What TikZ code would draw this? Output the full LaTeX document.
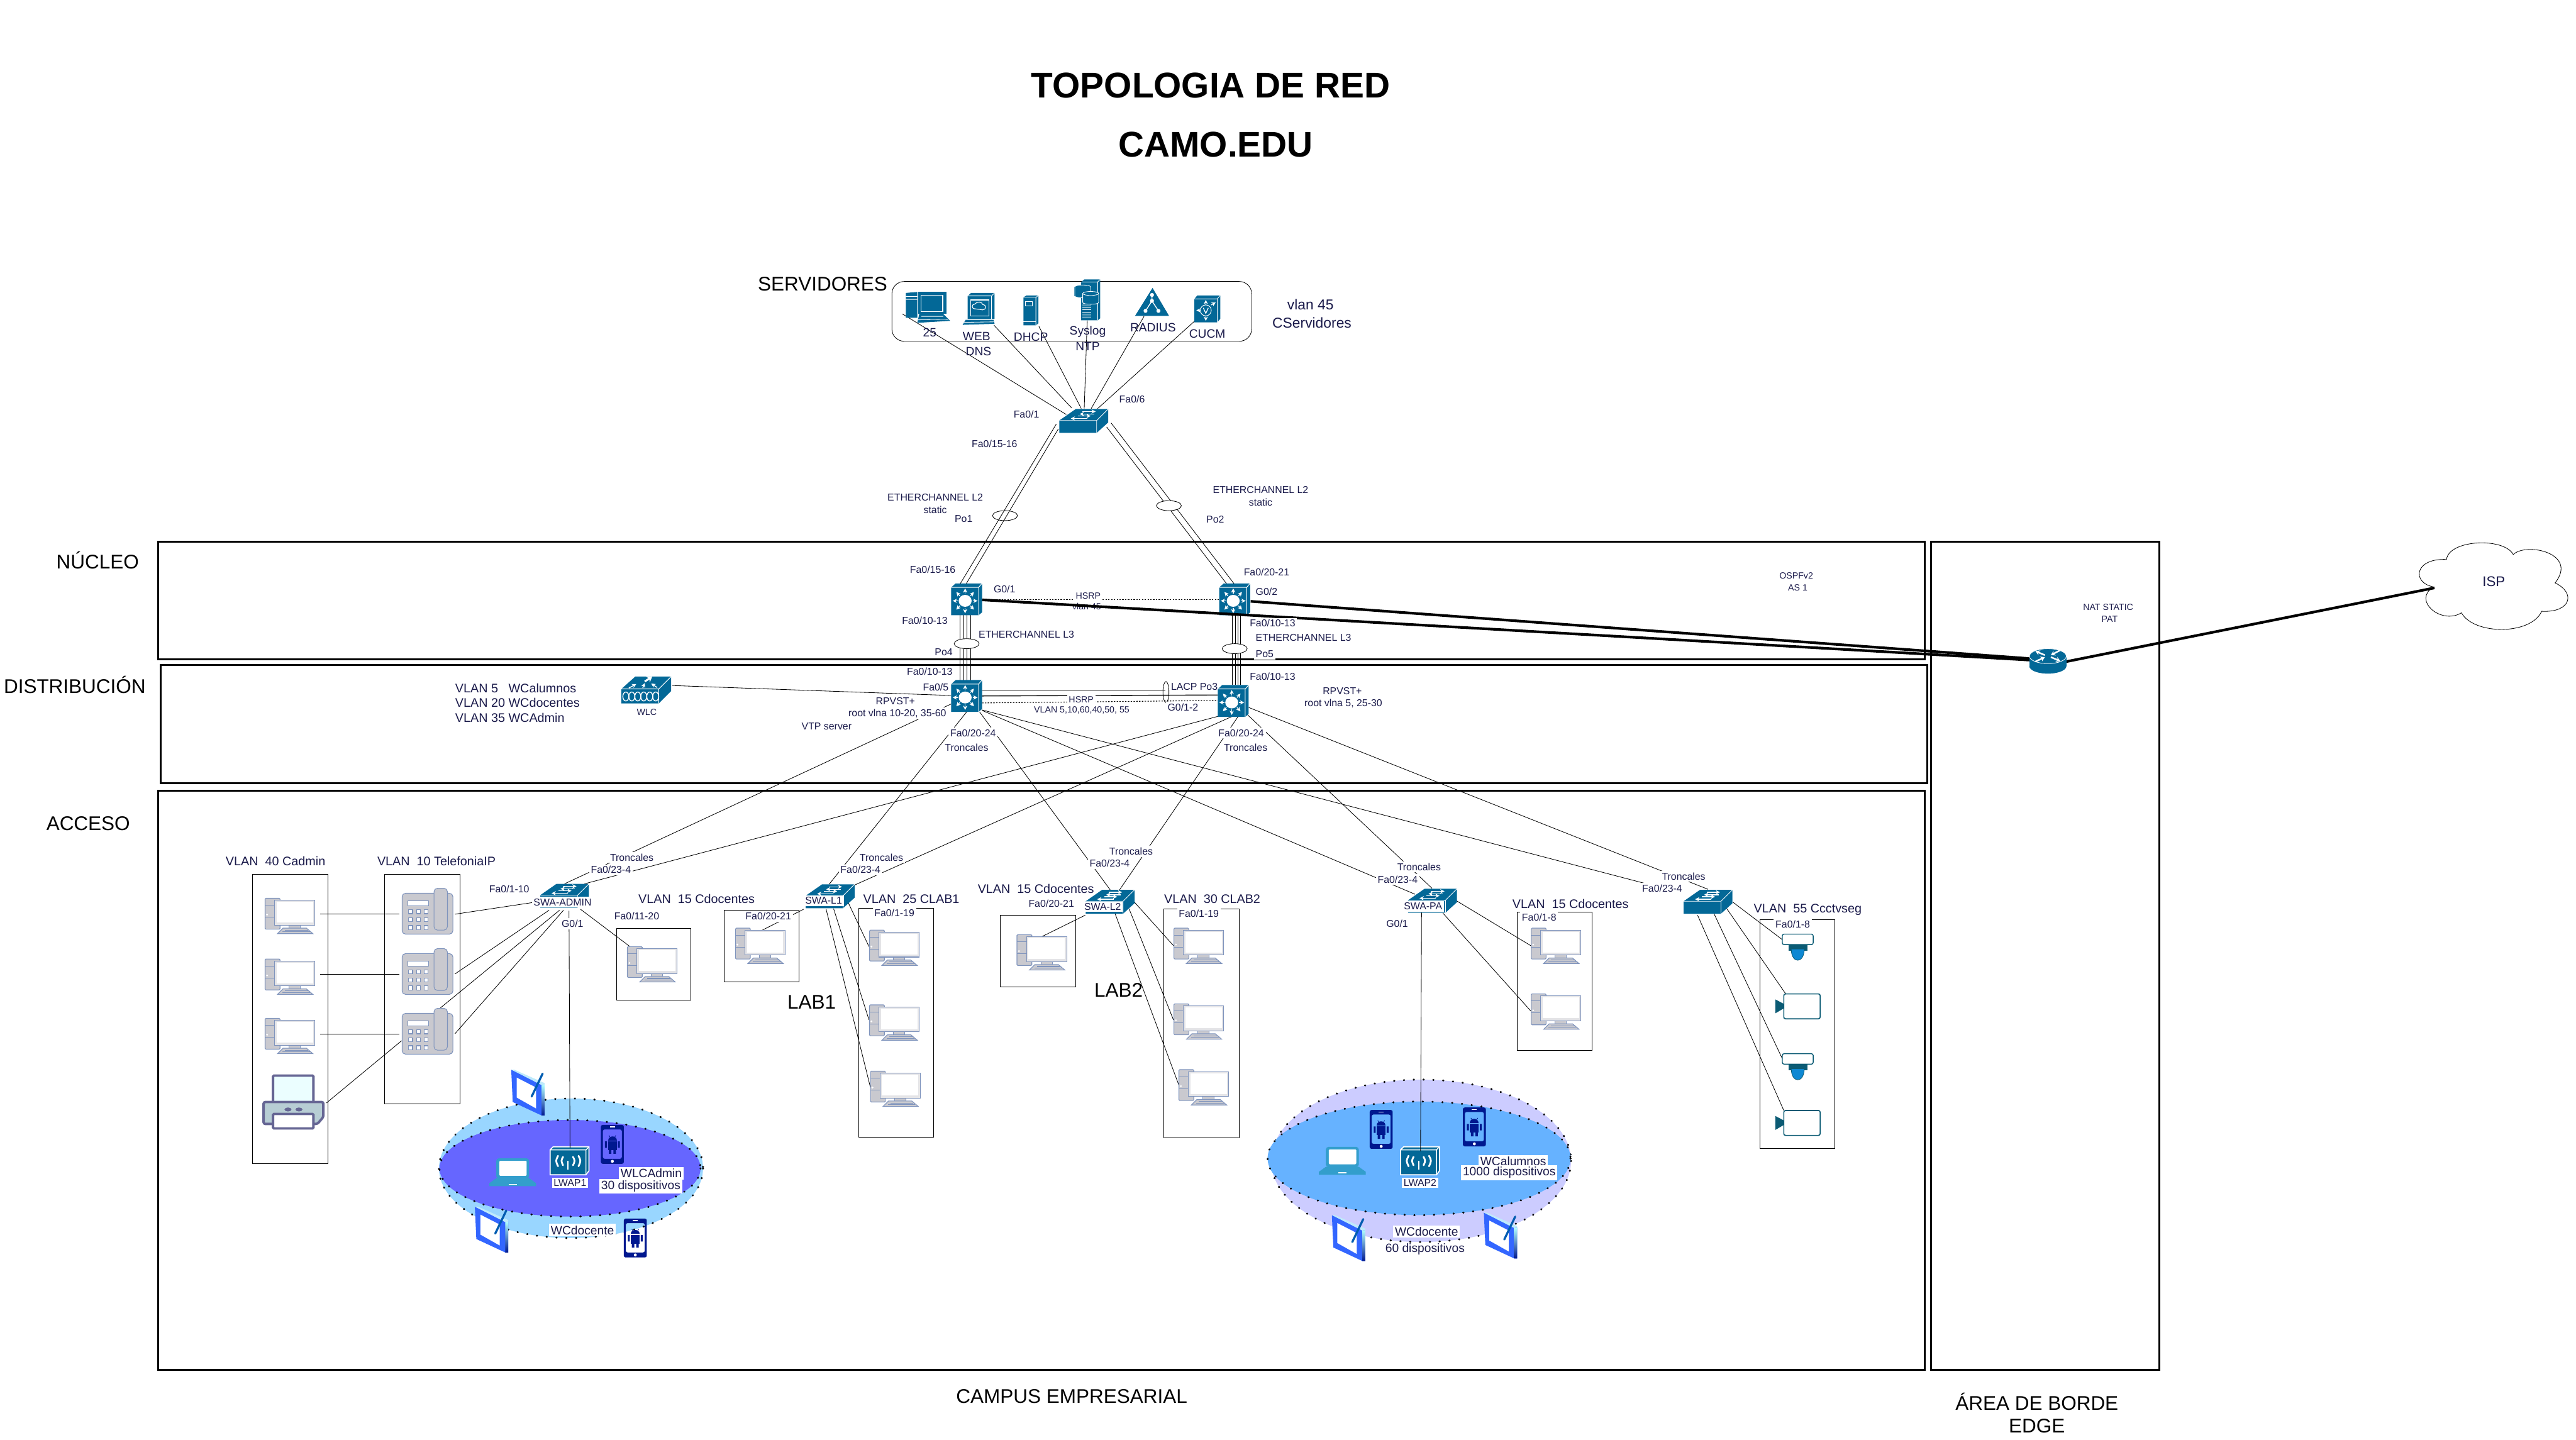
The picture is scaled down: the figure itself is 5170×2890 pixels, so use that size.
\documentclass[tikz,border=0pt]{standalone}
\usepackage{fontspec}
\setmainfont{Liberation Sans}
\usetikzlibrary{arrows.meta}
\definecolor{cis}{HTML}{036897}
\definecolor{cisd}{HTML}{025A82}
\definecolor{pcg}{HTML}{C9C9CF}
\definecolor{pce}{HTML}{7F94BD}
\definecolor{lbl}{HTML}{1A1A4A}
\definecolor{mb}{HTML}{00188F}
\definecolor{teal}{HTML}{0B5B74}
\newcount\tn
\newcommand\tx[4][]{\global\advance\tn by 1 \node[txt,#1] (t\the\tn) at (#2,#3) {#4};}
\newcommand\dev[3]{\node[devpt] (#1) at (#2,#3) {};}
\newcommand\lnk[5][link]{\draw[#1] ([shift={(#3)}]#2.center) -- ([shift={(#5)}]#4.center);}
\newcommand\ic[2]{\pic at (#2) {#1};}
\tikzset{
 x=0.01cm,y=-0.01cm,
 devpt/.style={inner sep=0pt,minimum size=0pt,outer sep=0pt},
 txt/.style={inner sep=0pt,text=lbl,font=\fontsize{5.7}{7}\selectfont},
 wb/.style={fill=white,inner sep=1pt},
 s18/.style={font=\fontsize{5.1}{6}\selectfont},
 s24/.style={font=\fontsize{6.9}{8}\selectfont},
 s25/.style={font=\fontsize{7.1}{8.5}\selectfont},
 s28/.style={font=\fontsize{8.2}{10}\selectfont},
 big/.style={text=black,font=\fontsize{11.3}{13}\selectfont},
 ttl/.style={text=black,font=\fontsize{20.4}{24}\selectfont\bfseries},
 link/.style={line width=.3pt,black},
 thick link/.style={line width=1.5pt,black},
 dot link/.style={line width=.4pt,black,dash pattern=on .8pt off .8pt},
 frame/.style={draw=black,line width=1.1pt},
 vbox/.style={draw=black,line width=.3pt},
 ring/.style={draw=black,line width=.3pt},
 wave/.style={draw=black,line width=1.1pt,line cap=round,dash pattern=on 0.2pt off 5.4pt},
 wa/.style={white,line width=.5pt,-{Stealth[length=2.4pt,width=2.4pt]}},
 pce line/.style={draw=pce,line width=.4pt},
 pcicon/.pic={
  \filldraw[fill=pcg,pce line,rounded corners=.5pt] (-50,-35) rectangle (-20,27);
  \draw[pce line] (-50,-21)--(-20,-21) (-50,3)--(-20,3);
  \fill[white] (-46,-2) circle (2);
  \filldraw[fill=pcg,pce line] (-2,19) rectangle (21,26);
  \filldraw[fill=pcg,pce line] (-14,25)--(33,25)--(46,36)--(-25,36)--cycle;
  \draw[pce line] (-10,29)--(36,29) (-15,32)--(40,32);
  \filldraw[fill=pcg!50,pce line] (-31,-31) rectangle (50,19);
  \fill[white] (-27,-28) rectangle (46,14);
 },
 phoneicon/.pic={
  \filldraw[fill=pcg,pce line,rounded corners=2pt] (-51,-36) rectangle (51,46);
  \filldraw[fill=pcg,pce line,rounded corners=2pt] (13,-46) rectangle (40,38);
  \filldraw[fill=white,pce line] (-39,-21) rectangle (2,-11);
  \foreach \xx in {-34,-18,-3} \foreach \yy in {1,17,33}
   \filldraw[fill=white,pce line] (\xx-4,\yy-4) rectangle (\xx+4,\yy+4);
 },
 printericon/.pic={
  \filldraw[fill=blue!5!cyan!8,draw=black!70!blue!60,line width=1.4pt,rounded corners=.5pt] (-41,-53) rectangle (40,4);
  \filldraw[fill=blue!25!cyan!25!gray!45,draw=black!70!blue!60,line width=1.4pt,rounded corners=1pt] (-60,0) -- (60,0) -- (60,30) -- (48,44) -- (-60,44) -- cycle;
  \fill[black!70!blue!60] (-11,15) ellipse [x radius=7,y radius=4] (11,15) ellipse [x radius=7,y radius=4];
  \filldraw[fill=white,draw=black!70!blue!60,line width=1.4pt,rounded corners=.5pt] (-41,24) rectangle (40,53);
 },
 swicon/.pic={
  \fill[cis] (-49,-1)--(-16,-24)--(49,-24)--(49,3)--(26,24)--(-49,24)--cycle;
  \draw[white,line width=.3pt] (-49,-1)--(26,-1)--(49,-24) (26,-1)--(26,24);
  \draw[wa] (-3,-19)--(24,-19);
  \draw[wa] (21,-14)--(-8,-14);
  \draw[wa] (-12,-10)--(14,-10);
  \draw[wa] (7,-5)--(-26,-5);
 },
 ltresicon/.pic={
  \fill[cis] (-31,-24)--(-22,-32)--(31,-32)--(31,26)--(24,32)--(-31,32)--cycle;
  \draw[white,line width=.35pt] (-31,-24)--(24,-24)--(31,-32) (24,-24)--(24,32);
  \fill[white] (-3,3) ellipse [x radius=13,y radius=12];
  \foreach \a in {0,45,...,315}
   \draw[wa] ({-3+15*cos(\a)},{3+14*sin(\a)}) -- ({-3+25*cos(\a)},{3+25*sin(\a)});
 },
 routericon/.pic={
  \fill[cis] (-37,-10) rectangle (37,10);
  \fill[cis] (0,10) ellipse [x radius=37,y radius=15];
  \filldraw[fill=cis,draw=white,line width=.3pt] (0,-10) ellipse [x radius=37,y radius=15];
  \draw[white,line width=.9pt,-{Stealth[length=2.5pt,width=3pt]}] (-6,-12)--(-25,-20);
  \draw[white,line width=.9pt,-{Stealth[length=2.5pt,width=3pt]}] (6,-8)--(25,0);
  \draw[white,line width=.9pt,{Stealth[length=2.5pt,width=3pt]}-] (6,-12)--(25,-22);
  \draw[white,line width=.9pt,{Stealth[length=2.5pt,width=3pt]}-] (-6,-8)--(-25,1);
 },
 wlcicon/.pic={
  \fill[cis] (-50,-2)--(-22,-27)--(50,-27)--(50,2)--(25,27)--(-50,27)--cycle;
  \draw[white,line width=.35pt] (-50,-2)--(25,-2)--(50,-27) (25,-2)--(25,27);
  \foreach \xx in {-41,-29,-17,-5,7,19}
   \draw[white,line width=.5pt] (\xx,13) ellipse [x radius=6,y radius=9];
  \draw[white,line width=1.1pt,-{Stealth[length=3pt,width=4pt]}] (-3,-17)--(12,-27);
  \draw[wa] (-35,-4)--(-20,-12);
  \draw[wa] (-7,-4)--(-3,-14);
  \draw[wa] (22,-5)--(10,-13);
 },
 apicon/.pic={
  \filldraw[fill=cis,draw=white,line width=.6pt] (-39,-22)--(-33,-28)--(39,-28)--(39,20)--(33,28)--(-39,28)--cycle;
  \draw[white,line width=.5pt] (-39,-22)--(33,-22)--(39,-28) (33,-22)--(33,28);
  \draw[white,line width=1pt,line cap=round] (-23,-10) .. controls (-28,0) .. (-23,11) (-13,-8) .. controls (-17,0) .. (-13,9)
    (18,-10) .. controls (23,0) .. (18,11) (7,-8) .. controls (11,0) .. (7,9);
  \draw[white,line width=.7pt] (-3,0)--(-3,18);
 },
 mobicon/.pic={
  \fill[mb,even odd rule,rounded corners=1pt] (-23,-39) rectangle (23,39) (-19,-30) rectangle (19,29);
  \fill[white] (0,34) circle (3);
  \draw[white,line width=.5pt] (-5,-35)--(5,-35);
  \fill[mb] (-9,-8) .. controls (-9,-19) and (9,-19) .. (9,-8) -- cycle;
  \fill[mb] (-9,-6) rectangle (9,11);
  \fill[mb] (-15,-6) rectangle (-11,7) (11,-6) rectangle (15,7);
  \fill[mb] (-7,11) rectangle (-2,19) (2,11) rectangle (7,19);
  \draw[mb,line width=.3pt] (-5,-15)--(-7,-18) (5,-15)--(7,-18);
 },
 tabicon/.pic={
  \fill[blue!75!cyan!80!white] (-34,-45)--(33,-15)--(33,47)--(27,47)--(-31,20)--cycle;
  \shade[top color=cyan!30!white,bottom color=mb] (27,-14)--(33,-15)--(33,47)--(27,47)--cycle;
  \fill[cyan!25!white] (-34,-45)--(-28,-45)--(33,-18)--(33,-15)--(27,-14)--cycle;
  \fill[white] (-23,-29)--(16,-9)--(16,33)--(-23,11)--cycle;
  \draw[mb!70!cyan,line width=1.2pt,line cap=round] (29,-37)--(7,9);
 },
 lapicon/.pic={
  \fill[blue!30!cyan!60!gray,rounded corners=1.5pt] (-33,-28) rectangle (33,13);
  \fill[white,rounded corners=.5pt] (-27,-23) rectangle (28,7);
  \fill[blue!30!cyan!60!gray] (-33,12)--(33,12)--(47,22)--(47,28)--(-47,28)--(-47,22)--cycle;
  \draw[white,line width=.4pt] (-8,24)--(8,24);
 },
 domeicon/.pic={
  \fill[teal] (-18,-4) rectangle (19,8);
  \filldraw[fill=cyan!70!blue,draw=teal,line width=.3pt] (-13,5) .. controls (-13,35) and (13,35) .. (13,5) -- cycle;
  \filldraw[fill=white,draw=teal,line width=.5pt,rounded corners=1pt] (-31,-25) rectangle (31,-4);
 },
 boxcamicon/.pic={
  \fill[teal] (-45,-14)--(-28,-5)--(-28,4)--(-45,14)--cycle;
  \filldraw[fill=white,draw=teal,line width=.6pt,rounded corners=1pt] (-28,-25) rectangle (45,25);
 },
 srvpc/.pic={
  \fill[cis] (-45,-29)--(-22,-31)--(-22,21)--(-45,21)--cycle;
  \fill[cis] (-20,-31) rectangle (36,13);
  \draw[white,line width=.4pt] (-15,-24) rectangle (29,8);
  \fill[cis] (-18,13)--(30,13)--(44,27)--(-22,31)--cycle;
  \draw[white,line width=.3pt] (-45,-22)--(-22,-22) (-45,-16)--(-22,-16) (-14,18)--(30,18) (-20,25)--(40,24);
 },
 srvweb/.pic={
  \fill[cis] (-22,-26)--(-15,-32)--(32,-32)--(32,20)--(26,20)--(-22,20)--cycle;
  \draw[white,line width=.3pt] (-22,-26)--(26,-26)--(32,-32) (26,-26)--(26,20);
  \draw[white,line width=.4pt] (-16,-18) rectangle (21,14);
  \draw[white,line width=.4pt] (-6,0) .. controls (-16,0) and (-14,-10) .. (-7,-10) .. controls (-4,-16) and (8,-14) .. (8,-9) .. controls (16,-9) and (16,2) .. (8,2) -- cycle;
  \fill[cis] (-26,22)--(30,22)--(32,30)--(-32,32)--cycle;
  \draw[white,line width=.3pt] (-30,27)--(30,26);
 },
 srvdhcp/.pic={
  \fill[cis] (-15,-26)--(-9,-30)--(15,-30)--(15,26)--(10,30)--(-15,30)--cycle;
  \draw[white,line width=.3pt] (-15,-26)--(10,-26)--(15,-30) (10,-26)--(10,30);
  \draw[white,line width=.3pt] (-11,-18) rectangle (3,-9);
  \draw[white,line width=.3pt] (-15,22)--(10,22);
 },
 srvsys/.pic={
  \fill[cis] (-12,-36)--(-6,-41)--(26,-41)--(26,37)--(21,41)--(-12,41)--cycle;
  \draw[white,line width=.3pt] (-12,-36)--(21,-36)--(26,-41) (21,-36)--(21,41);
  \foreach \yy in {8,12,...,36} \draw[white,line width=.3pt] (-10,\yy)--(8,\yy);
  \fill[cis] (-26,-26) rectangle (7,-8);
  \filldraw[fill=cis,draw=white,line width=.3pt] (-9,-26) ellipse [x radius=16,y radius=4];
  \filldraw[fill=cis,draw=white,line width=.3pt] (-25,-26)--(-25,-8) .. controls (-25,-3) and (7,-3) .. (7,-8) -- (7,-26);
  \filldraw[fill=cis,draw=white,line width=.3pt] (-9,-13)--(-9,5) .. controls (-9,10) and (23,10) .. (23,5) -- (23,-13);
  \filldraw[fill=cis,draw=white,line width=.3pt] (7,-13) ellipse [x radius=16,y radius=4];
 },
 srvrad/.pic={
  \fill[cis] (0,-28)--(-35,28)--(33,28)--cycle;
  \fill[cisd] (0,-28)--(33,28)--(28,20)--cycle;
  \draw[white,line width=.5pt] (-14,18)--(-1,-2)--(12,18) (-1,-2)--(-1,-14);
  \fill[white] (-1,-14) circle (4) (-14,18) circle (4) (12,18) circle (4) (-1,-2) circle (4);
 },
 srvcucm/.pic={
  \fill[cis] (-26,-20)--(-20,-27)--(26,-27)--(26,20)--(20,27)--(-26,27)--cycle;
  \draw[white,line width=.3pt] (-26,-20)--(20,-20)--(26,-27) (20,-20)--(20,27);
  \draw[white,line width=.35pt] (-3,3) circle (11);
  \draw[white,line width=.45pt] (-8,-2)--(-3,9)--(2,-2);
  \draw[wa] (-3,-8)--(-3,-18);
  \draw[wa] (-3,14)--(-3,24);
  \draw[wa] (-14,3)--(-22,3);
  \draw[wa] (8,-8)--(17,-13);
 },
}
\begin{document}
\begin{tikzpicture}
\useasboundingbox (0,0) rectangle (5170,2890);
% frames
\draw[frame] (317,1087) rectangle (3863,1323);
\draw[frame] (323,1335) rectangle (3868,1572);
\draw[frame] (317,1587) rectangle (3863,2750);
\draw[frame] (3875,1087) rectangle (4334,2750);
% server group
\draw[line width=.3pt,black,rounded corners=7pt] (1790,565) rectangle (2512,685);
% vlan boxes
\draw[vbox] (507,1755) rectangle (658,2336);
\draw[vbox] (772,1755) rectangle (923,2216);
\draw[vbox] (1237,1864) rectangle (1387,2007);
\draw[vbox] (1453,1827) rectangle (1604,1971);
\draw[vbox] (1723,1823) rectangle (1874,2283);
\draw[vbox] (2008,1837) rectangle (2159,1981);
\draw[vbox] (2336,1824) rectangle (2487,2284);
\draw[vbox] (3045,1831) rectangle (3195,2109);
\draw[vbox] (3532,1846) rectangle (3682,2305);
% wireless zones
\node[devpt] (zo1) at (1146,2345) {};
\node[devpt] (zi1) at (1144,2345) {};
\node[devpt] (zo2) at (2852,2330) {};
\node[devpt] (zi2) at (2848,2325) {};
\path[fill=blue!40!cyan!40!white] (zo1) ellipse [x radius=265,y radius=140];
\draw[wave] (zo1) ellipse [x radius=265,y radius=140];
\path[fill={rgb,255:red,102;green,102;blue,255}] (zi1) ellipse [x radius=262,y radius=97];
\draw[wave] (zi1) ellipse [x radius=262,y radius=97];
\path[fill={rgb,255:red,204;green,204;blue,255}] (zo2) ellipse [x radius=301,y radius=163];
\draw[wave] (zo2) ellipse [x radius=301,y radius=163];
\path[fill={rgb,255:red,102;green,178;blue,255}] (zi2) ellipse [x radius=304,y radius=114];
\draw[wave] (zi2) ellipse [x radius=304,y radius=114];
% device nodes
\dev{sA}{1863}{617}\dev{sB}{1964}{620}\dev{sC}{2069}{623}\dev{sD}{2182}{602}\dev{sE}{2313}{606}\dev{sF}{2423}{620}
\dev{swS}{2175}{845}
\dev{nA}{1940}{1203}\dev{nB}{2478}{1203}\dev{dC}{1940}{1397}\dev{dD}{2475}{1407}
\dev{rt}{4110}{1327}\dev{wlc}{1297}{1385}
\dev{swAdm}{1133}{1798}\dev{swLa}{1666}{1799}\dev{swLb}{2228}{1810}\dev{swPA}{2875}{1808}\dev{swCC}{3428}{1810}
\dev{pcA}{582}{1838}\dev{pcB}{582}{1960}\dev{pcC}{582}{2079}\dev{prn}{589}{2212}
\dev{phA}{858}{1829}\dev{phB}{858}{1950}\dev{phC}{858}{2070}
\dev{pcD}{1309}{1935}\dev{pcE}{1526}{1898}
\dev{pcF}{1795}{1902}\dev{pcG}{1795}{2052}\dev{pcH}{1797}{2185}
\dev{pcI}{2091}{1911}
\dev{pcJ}{2406}{1898}\dev{pcK}{2406}{2050}\dev{pcL}{2416}{2182}
\dev{pcM}{3123}{1898}\dev{pcN}{3123}{2030}
\dev{camA}{3608}{1900}\dev{camB}{3608}{2020}\dev{camC}{3608}{2140}\dev{camD}{3608}{2254}
\dev{apA}{1143}{2330}\dev{apB}{2850}{2330}
\dev{lapA}{1029}{2353}\dev{lapB}{2694}{2330}
\dev{moA}{1229}{2297}\dev{moB}{1275}{2485}\dev{moC}{2772}{2267}\dev{moD}{2959}{2262}
\dev{taA}{1060}{2192}\dev{taB}{987}{2467}\dev{taC}{2707}{2484}\dev{taD}{3012}{2479}
% server links
\lnk{sA}{-52,13}{swS}{-35,-13}
\lnk{sB}{31,33}{swS}{-24,-26}
\lnk{sC}{16,32}{swS}{-5,-25}
\lnk{sD}{0,41}{swS}{1,-25}
\lnk{sE}{-17,29}{swS}{15,-25}
\lnk{sF}{-26,25}{swS}{28,-25}
% etherchannel L2
\lnk{swS}{-55,6}{nA}{-13,-31}
\lnk{swS}{-51,16}{nA}{-1,-31}
\lnk{swS}{46,12}{nB}{-16,-31}
\lnk{swS}{55,4}{nB}{-1,-31}
\node[devpt] (eA) at (2017,1035) {};
\draw[ring] (eA) ellipse [x radius=25,y radius=10];
\node[devpt] (eB) at (2346,1015) {};
\draw[ring,fill=white] (eB) ellipse [x radius=25,y radius=10];
% etherchannel L3
\lnk{nA}{-13,31}{dC}{-13,-31}
\lnk{nA}{-6,31}{dC}{-6,-31}
\lnk{nA}{1,31}{dC}{1,-31}
\lnk{nA}{8,31}{dC}{8,-31}
\lnk{nB}{-5,30}{dD}{-2,-32}
\lnk{nB}{1,30}{dD}{4,-32}
\lnk{nB}{7,30}{dD}{10,-32}
\lnk{nB}{11,30}{dD}{14,-32}
\node[devpt] (eC) at (1940,1292) {};
\draw[ring,fill=white] (eC) ellipse [x radius=25,y radius=10];
\node[devpt] (eD) at (2478,1302) {};
\draw[ring,fill=white] (eD) ellipse [x radius=25,y radius=10];
% C-D
\node[devpt] (eE) at (2340,1389) {};
\lnk[line width=.5pt]{dC}{31,-12}{eE}{-1,-4}
\lnk[line width=.5pt]{dC}{31,0}{dD}{-31,-12}
\lnk[dot link]{dC}{31,14}{dD}{-31,-1}
\draw[ring] (eE) ellipse [x radius=6,y radius=21];
\lnk[dot link]{nA}{31,0}{nB}{-32,0}
\lnk{wlc}{52,-9}{dC}{-31,-1}
% uplinks
\lnk{swAdm}{0,-24}{dC}{-31,16}
\lnk{swAdm}{40,-24}{dD}{-31,31}
\lnk{swLa}{-2,-24}{dC}{0,32}
\lnk{swLa}{48,-22}{dD}{-2,31}
\lnk{swLb}{0,-24}{dC}{26,32}
\lnk{swLb}{19,-24}{dD}{10,31}
\lnk{swPA}{-35,-13}{dC}{31,29}
\lnk{swPA}{-1,-25}{dD}{29,28}
\lnk{swCC}{-51,-17}{dC}{31,28}
\lnk{swCC}{0,-25}{dD}{31,13}
% access links
\lnk{phA}{55,6}{swAdm}{-60,13}
\lnk{phB}{55,5}{swAdm}{-31,29}
\lnk{phC}{26,-47}{swAdm}{-10,29}
\lnk{phC}{55,5}{swAdm}{-2,29}
\lnk{prn}{66,2}{phC}{-52,19}
\lnk{pcA}{61,-4}{phA}{-56,5}
\lnk{pcB}{61,-4}{phB}{-56,6}
\lnk{pcC}{61,-4}{phC}{-56,5}
\lnk{swAdm}{32,27}{pcD}{-46,-36}
\lnk{swLa}{-53,26}{pcE}{0,-29}
\lnk{swLa}{36,12}{pcF}{-51,-2}
\lnk{swLa}{7,25}{pcG}{-51,-5}
\lnk{swLa}{-8,26}{pcH}{-50,-2}
\lnk{swLb}{-50,27}{pcI}{0,-31}
\lnk{swLb}{48,0}{pcJ}{-51,0}
\lnk{swLb}{38,14}{pcK}{-51,-3}
\lnk{swLb}{10,24}{pcL}{-49,-1}
\lnk{swPA}{48,0}{pcM}{-51,0}
\lnk{swPA}{21,25}{pcN}{-51,-1}
\lnk{swCC}{50,1}{camA}{-31,-14}
\lnk{swCC}{37,13}{camB}{-22,-22}
\lnk{swCC}{12,24}{camC}{-31,-15}
\lnk{swCC}{-21,27}{camD}{-28,-25}
% cloud
\node[txt,font=\fontsize{8}{10}\selectfont] (isp) at (5005,1167) {ISP};
\draw[line width=.3pt,black] (4884,1178) .. controls (4840,1170) and (4845,1120) .. (4910,1123)
  .. controls (4915,1083) and (5025,1078) .. (5044,1113)
  .. controls (5070,1088) and (5175,1110) .. (5128,1170)
  .. controls (5170,1190) and (5160,1230) .. (5101,1227)
  .. controls (5080,1275) and (4965,1275) .. (4940,1230)
  .. controls (4900,1255) and (4840,1205) .. (4884,1178);
% icons
\ic{srvpc}{sA}\ic{srvweb}{sB}\ic{srvdhcp}{sC}\ic{srvsys}{sD}\ic{srvrad}{sE}\ic{srvcucm}{sF}
\ic{swicon}{swS}\ic{ltresicon}{nA}\ic{ltresicon}{nB}\ic{ltresicon}{dC}\ic{ltresicon}{dD}
\ic{routericon}{rt}\ic{wlcicon}{wlc}
\ic{swicon}{swAdm}\ic{swicon}{swLa}\ic{swicon}{swLb}\ic{swicon}{swPA}\ic{swicon}{swCC}
\foreach \n in {pcA,pcB,pcC,pcD,pcE,pcF,pcG,pcH,pcI,pcJ,pcK,pcL,pcM,pcN} {\ic{pcicon}{\n}}
\ic{printericon}{prn}
\foreach \n in {phA,phB,phC} {\ic{phoneicon}{\n}}
\ic{domeicon}{camA}\ic{boxcamicon}{camB}\ic{domeicon}{camC}\ic{boxcamicon}{camD}
\ic{apicon}{apA}\ic{apicon}{apB}
\ic{lapicon}{lapA}\ic{lapicon}{lapB}
\foreach \n in {moA,moB,moC,moD} {\ic{mobicon}{\n}}
\foreach \n in {taA,taB,taC,taD} {\ic{tabicon}{\n}}
% AP links are drawn over the icons
\lnk{swPA}{-22,24}{apB}{1,-19}
\lnk{swAdm}{9,30}{apA}{1,-26}
% titles
\tx[ttl]{2430}{171}{TOPOLOGIA DE RED}
\tx[ttl]{2440}{290}{CAMO.EDU}
\tx[big]{1651}{570}{SERVIDORES}
\tx[big]{196}{1125}{NÚCLEO}
\tx[big]{150}{1375}{DISTRIBUCIÓN}
\tx[big]{177}{1653}{ACCESO}
\tx[big]{2151}{2803}{CAMPUS EMPRESARIAL}
\tx[big]{4088}{2814}{ÁREA DE BORDE}
\tx[big]{4088}{2862}{EDGE}
\tx[big]{1629}{2012}{LAB1}
\tx[big]{2245}{1987}{LAB2}
% servers
\tx[s24]{1866}{668}{25}
\tx[s24]{1960}{675}{WEB}
\tx[s24]{1964}{705}{DNS}
\tx[s24]{2069}{676}{DHCP}
\tx[s24]{2183}{666}{Syslog}
\tx[s24]{2183}{695}{NTP}
\tx[s24]{2314}{657}{RADIUS}
\tx[s24]{2423}{670}{CUCM}
\tx[s28]{2630}{611}{vlan 45}
\tx[s28]{2633}{648}{CServidores}
% core
\tx{2060}{831}{Fa0/1}
\tx{2272}{801}{Fa0/6}
\tx{1996}{891}{Fa0/15-16}
\tx{1877}{998}{ETHERCHANNEL L2}
\tx{1877}{1023}{static}
\tx{1934}{1042}{Po1}
\tx{2530}{983}{ETHERCHANNEL L2}
\tx{2530}{1008}{static}
\tx{2439}{1042}{Po2}
\tx{1872}{1143}{Fa0/15-16}
\tx{2542}{1148}{Fa0/20-21}
\tx{2016}{1182}{G0/1}
\tx{2542}{1188}{G0/2}
\tx[s18]{2181}{1217}{vlan 45}
\lnk[thick link]{nA}{31,1}{rt}{-35,-2}
\lnk[thick link]{nB}{32,4}{rt}{-35,-5}
\lnk[thick link]{rt}{37,1}{isp}{-119,13}
\ic{routericon}{rt}
\tx[s18,wb]{2184}{1196}{HSRP}
\tx{1856}{1245}{Fa0/10-13}
\tx[wb]{2554}{1251}{Fa0/10-13}
\tx{2060}{1273}{ETHERCHANNEL L3}
\tx{2616}{1280}{ETHERCHANNEL L3}
\tx{1894}{1309}{Po4}
\tx[wb]{2538}{1313}{Po5}
\tx[wb]{1866}{1348}{Fa0/10-13}
\tx{2554}{1358}{Fa0/10-13}
\tx{1878}{1379}{Fa0/5}
\tx{2397}{1378}{LACP Po3}
\tx[wb]{1797}{1407}{RPVST+}
\tx[wb]{1801}{1432}{root vlna 10-20, 35-60}
\tx{2694}{1387}{RPVST+}
\tx{2696}{1412}{root vlna 5, 25-30}
\tx{1659}{1458}{VTP server}
\tx[s18,wb]{2170}{1404}{HSRP}
\tx[s18,wb]{2171}{1426}{VLAN 5,10,60,40,50, 55}
\tx[wb]{2374}{1420}{G0/1-2}
\tx[wb]{1953}{1471}{Fa0/20-24}
\tx[wb]{1940}{1501}{Troncales}
\tx[wb]{2491}{1471}{Fa0/20-24}
\tx[wb]{2500}{1501}{Troncales}
\tx[s18]{1298}{1429}{WLC}
\tx[anchor=west,s25]{913}{1381}{VLAN 5\ \ \ WCalumnos}
\tx[anchor=west,s25]{913}{1411}{VLAN 20 WCdocentes}
\tx[anchor=west,s25]{913}{1441}{VLAN 35 WCAdmin}
\tx[s18]{3605}{1156}{OSPFv2}
\tx[s18]{3608}{1180}{AS 1}
\tx[s18]{4231}{1219}{NAT STATIC}
\tx[s18]{4234}{1243}{PAT}
% access labels
\tx[s25]{553}{1728}{VLAN\ \ 40 Cadmin}
\tx[s25]{876}{1728}{VLAN\ \ 10 TelefoniaIP}
\tx[wb]{1129}{1811}{SWA-ADMIN}
\tx[wb]{1022}{1785}{Fa0/1-10}
\tx[wb]{1149}{1854}{G0/1}
\tx[wb]{1268}{1721}{Troncales}
\tx[wb]{1226}{1746}{Fa0/23-4}
\tx[s25]{1398}{1804}{VLAN\ \ 15 Cdocentes}
\tx{1278}{1839}{Fa0/11-20}
\tx[wb]{1542}{1839}{Fa0/20-21}
\tx[wb]{1653}{1808}{SWA-L1}
\tx[wb]{1769}{1721}{Troncales}
\tx[wb]{1727}{1746}{Fa0/23-4}
\tx[s25]{1829}{1804}{VLAN\ \ 25 CLAB1}
\tx[wb]{1795}{1833}{Fa0/1-19}
\tx[s25]{2079}{1784}{VLAN\ \ 15 Cdocentes}
\tx{2110}{1814}{Fa0/20-21}
\tx[wb]{2213}{1820}{SWA-L2}
\tx[wb]{2270}{1709}{Troncales}
\tx[wb]{2227}{1733}{Fa0/23-4}
\tx[s25]{2433}{1804}{VLAN\ \ 30 CLAB2}
\tx[wb]{2406}{1834}{Fa0/1-19}
\tx[wb]{2856}{1819}{SWA-PA}
\tx[wb]{2848}{1740}{Troncales}
\tx[wb]{2805}{1765}{Fa0/23-4}
\tx{2804}{1854}{G0/1}
\tx[s25]{3152}{1814}{VLAN\ \ 15 Cdocentes}
\tx[wb]{3089}{1841}{Fa0/1-8}
\tx[wb]{3379}{1759}{Troncales}
\tx[wb]{3336}{1783}{Fa0/23-4}
\tx[s25]{3628}{1826}{VLAN\ \ 55 Ccctvseg}
\tx[wb]{3598}{1855}{Fa0/1-8}
% wireless labels
\tx[wb]{1144}{2374}{LWAP1}
\tx[s24,wb]{1307}{2355}{WLCAdmin}
\tx[s24,wb]{1286}{2381}{30 dispositivos}
\tx[s24,wb]{1169}{2469}{WCdocente}
\tx[wb]{2850}{2374}{LWAP2}
\tx[s24,wb]{3037}{2331}{WCalumnos}
\tx[s24,wb]{3029}{2354}{1000 dispositivos}
\tx[s24,wb]{2863}{2472}{WCdocente}
\tx[s24]{2860}{2507}{60 dispositivos}
\end{tikzpicture}
\end{document}
